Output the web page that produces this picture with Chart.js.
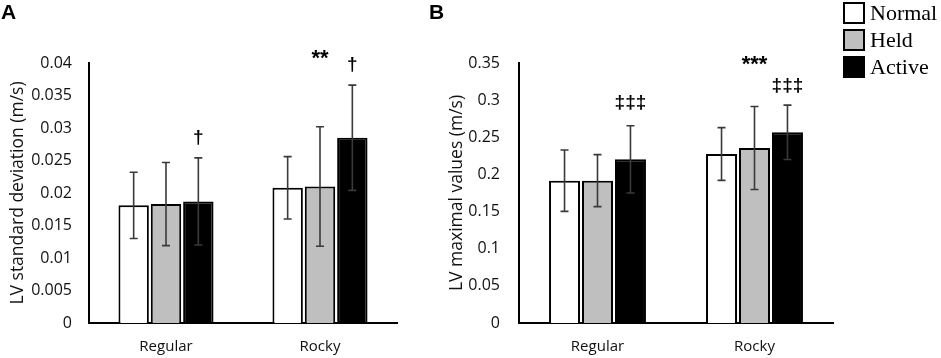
<!DOCTYPE html>
<html>
<head>
<meta charset="utf-8">
<script src="https://cdn.jsdelivr.net/npm/chart.js@4.4.1/dist/chart.umd.min.js"></script>
<style>
  body { margin: 0; background: #fff; }
  .wrap { position: absolute; top: 0; height: 358px; }
  #wrapA { left: 0; width: 420px; }
  #wrapB { left: 420px; width: 521px; }
</style>
</head>
<body>
<div class="wrap" id="wrapA"><canvas id="chartA"></canvas></div>
<div class="wrap" id="wrapB"><canvas id="chartB"></canvas></div>
<script>
// data
var categories = ['Regular', 'Rocky'];
var seriesNames = ['Normal', 'Held', 'Active'];
var seriesColors = ['#ffffff', '#bfbfbf', '#000000'];

// A: LV standard deviation (m/s)
var sdMeans = [[0.0181, 0.0208], [0.0183, 0.0210], [0.0187, 0.0285]];
var sdErrors = [[0.0051, 0.0048], [0.0064, 0.0092], [0.0067, 0.0081]];
var sdTicks = { max: 0.04, step: 0.005, digits: 3 };
// annotations: text, category, series, level (data units)
var sdMarks = [
  { text: '\u2020', cat: 0, series: 2, at: 0.0285 },
  { text: '**', cat: 1, series: 1, at: 0.0411 },
  { text: '\u2020', cat: 1, series: 2, at: 0.0397 }
];

// B: LV maximal values (m/s)
var maxMeans = [[0.1916, 0.2275], [0.1916, 0.2356], [0.2203, 0.2567]];
var maxErrors = [[0.0413, 0.0355], [0.0350, 0.0559], [0.0453, 0.0366]];
var maxTicks = { max: 0.35, step: 0.05, digits: 2 };
var maxMarks = [
  { text: '\u2021\u2021\u2021', cat: 0, series: 2, at: 0.2962 },
  { text: '***', cat: 1, series: 1, at: 0.3513 },
  { text: '\u2021\u2021\u2021', cat: 1, series: 2, at: 0.3190 }
];

var sans = '"Open Sans", sans-serif';

var errorBars = {
  id: 'errorBars',
  afterDatasetsDraw: function(chart) {
    var ctx = chart.ctx, y = chart.scales.y;
    ctx.save();
    ctx.strokeStyle = '#3a3a3a';
    ctx.lineWidth = 1.6;
    chart.data.datasets.forEach(function(ds, i) {
      chart.getDatasetMeta(i).data.forEach(function(bar, j) {
        var top = y.getPixelForValue(ds.data[j] + ds.errors[j]);
        var bot = y.getPixelForValue(ds.data[j] - ds.errors[j]);
        ctx.beginPath();
        ctx.moveTo(bar.x, top); ctx.lineTo(bar.x, bot);
        ctx.moveTo(bar.x - 4, top); ctx.lineTo(bar.x + 4, top);
        ctx.moveTo(bar.x - 4, bot); ctx.lineTo(bar.x + 4, bot);
        ctx.stroke();
      });
    });
    ctx.restore();
  }
};

var extras = {
  id: 'extras',
  afterDraw: function(chart, args, opts) {
    var ctx = chart.ctx, y = chart.scales.y;
    ctx.save();
    // panel letter
    ctx.fillStyle = '#000';
    ctx.font = 'bold 21px "Liberation Sans", Arial, sans-serif';
    ctx.textBaseline = 'alphabetic';
    ctx.textAlign = 'left';
    ctx.fillText(opts.letter, opts.letterX, 19);
    // significance marks
    ctx.textAlign = 'center';
    ctx.textBaseline = 'middle';
    opts.marks.forEach(function(m) {
      var bar = chart.getDatasetMeta(m.series).data[m.cat];
      var star = m.text.indexOf('*') >= 0;
      ctx.font = 'bold ' + (star ? '22px' : '19px') + ' "Liberation Sans", Arial, sans-serif';
      ctx.fillText(m.text, bar.x, y.getPixelForValue(m.at) + (star ? 3 : 0));
    });
    // legend
    if (opts.legend) {
      ctx.font = '22px "Liberation Serif", "Times New Roman", serif';
      ctx.textAlign = 'left';
      ctx.textBaseline = 'alphabetic';
      chart.data.datasets.forEach(function(ds, i) {
        var top = 3 + i * 27;
        ctx.fillStyle = ds.backgroundColor;
        ctx.fillRect(424, top, 20, 20);
        ctx.strokeStyle = '#000';
        ctx.lineWidth = 2;
        ctx.strokeRect(424, top, 20, 20);
        ctx.fillStyle = '#000';
        ctx.fillText(ds.label, 450, top + 17);
      });
    }
    ctx.restore();
  }
};

function makeChart(id, means, errors, tk, title, marks, o) {
  var datasets = [];
  for (var i = 0; i < seriesNames.length; i++) {
    datasets.push({
      label: seriesNames[i],
      data: means[i],
      errors: errors[i],
      backgroundColor: seriesColors[i],
      borderColor: '#000',
      borderWidth: 2,
      borderSkipped: 'start'
    });
  }
  return new Chart(document.getElementById(id), {
    type: 'bar',
    data: { labels: categories, datasets: datasets },
    plugins: [errorBars, extras],
    options: {
      responsive: true,
      maintainAspectRatio: false,
      animation: false,
      categoryPercentage: 0.63,
      barPercentage: 0.94,
      layout: { padding: { left: 0, right: o.padRight, top: 63, bottom: 0 } },
      plugins: {
        legend: { display: false },
        tooltip: { enabled: false },
        extras: { letter: o.letter, letterX: o.letterX, marks: marks, legend: o.legend }
      },
      scales: {
        x: {
          grid: { display: false, drawTicks: false },
          border: { display: true, color: '#000', width: 2 },
          ticks: { color: '#111', padding: 15, font: { family: sans, size: 15 } },
          afterFit: function(s) { s.height = 35; }
        },
        y: {
          min: 0,
          max: tk.max,
          grid: { display: false, drawTicks: false },
          border: { display: true, color: '#000', width: 2 },
          ticks: {
            stepSize: tk.step,
            color: '#111',
            padding: o.tickPad,
            font: { family: sans, size: 16 },
            callback: function(v) { return String(parseFloat(Number(v).toFixed(tk.digits))); }
          },
          title: {
            display: true,
            text: title,
            color: '#111',
            font: { family: sans, size: 17.5 },
            padding: { top: o.titlePad, bottom: 0 }
          },
          afterFit: function(s) { s.width = o.axisWidth; }
        }
      }
    }
  });
}

makeChart('chartA', sdMeans, sdErrors, sdTicks, 'LV standard deviation (m/s)', sdMarks,
  { padRight: 23, axisWidth: 89, tickPad: 17, titlePad: 8, letter: 'A', letterX: 1, legend: false });
makeChart('chartB', maxMeans, maxErrors, maxTicks, 'LV maximal values (m/s)', maxMarks,
  { padRight: 108, axisWidth: 99, tickPad: 19, titlePad: 27, letter: 'B', letterX: 9, legend: true });
</script>
</body>
</html>
